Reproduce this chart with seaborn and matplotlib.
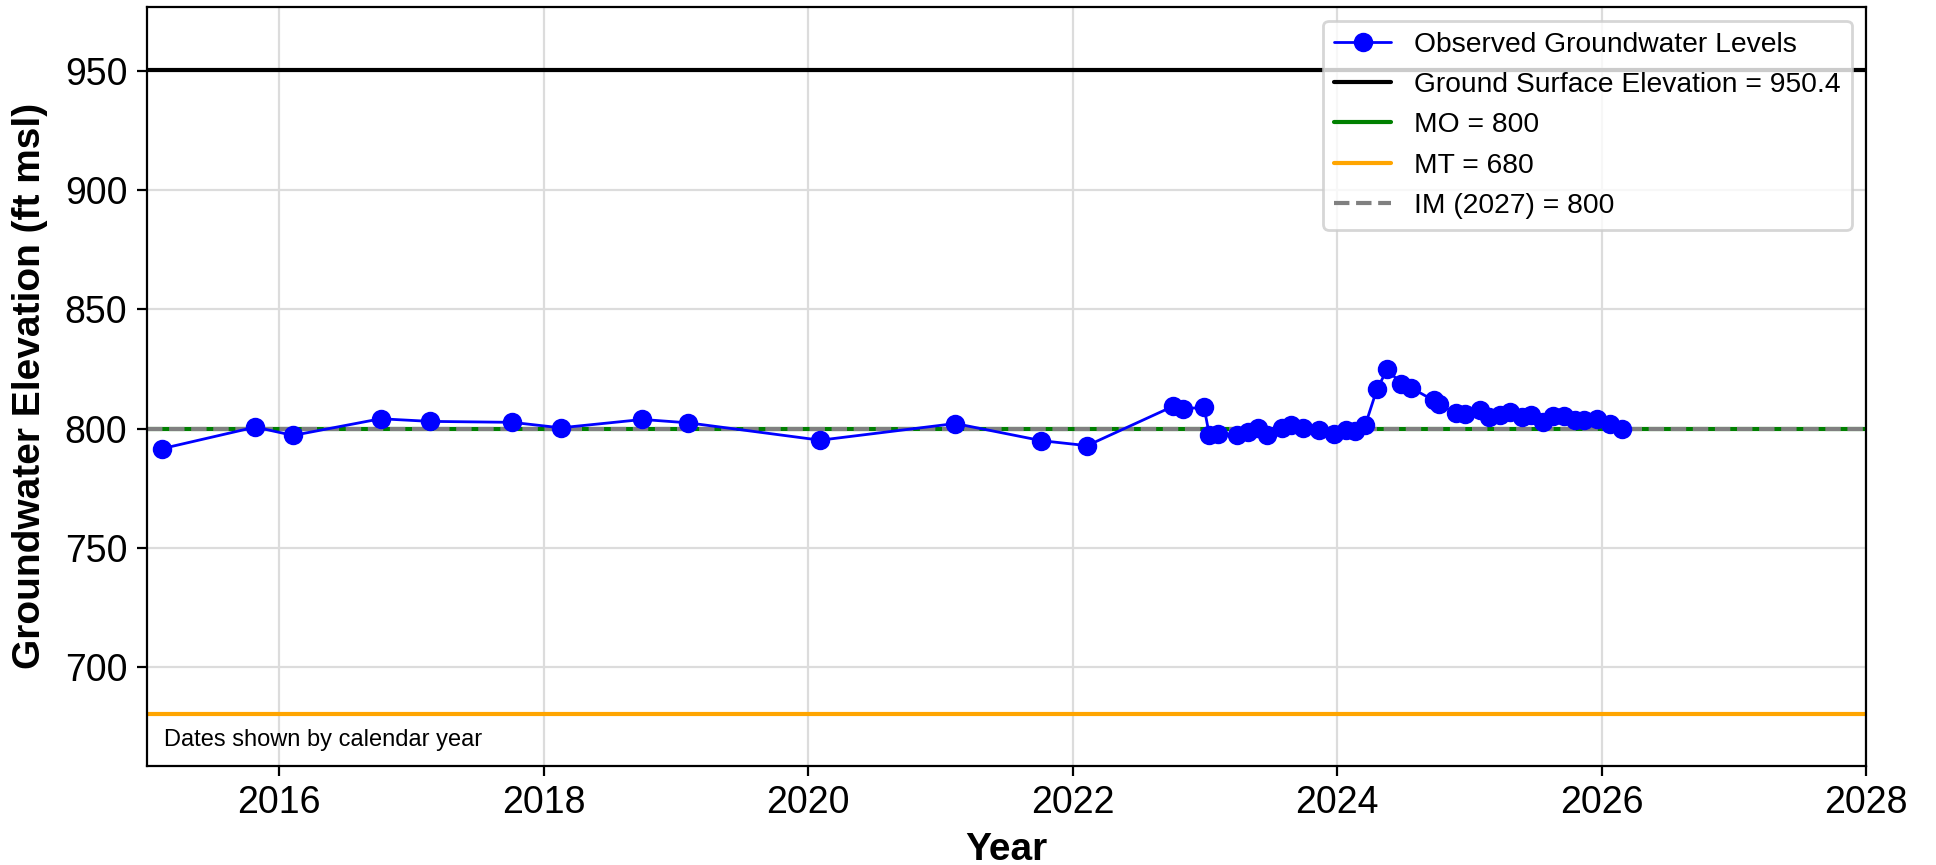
import matplotlib
matplotlib.use("Agg")
import matplotlib.pyplot as plt
import matplotlib.dates as mdates
import pandas as pd
import seaborn as sns

# Observed groundwater level measurements
obs_dates = [
    "2015-02-11", "2015-10-28", "2016-02-09", "2016-10-08", "2017-02-21",
    "2017-10-06", "2018-02-17", "2018-10-01", "2019-02-04", "2020-02-04",
    "2021-02-11", "2021-10-07", "2022-02-10", "2022-10-05", "2022-11-03",
    "2022-12-30", "2023-01-14", "2023-02-06", "2023-03-30", "2023-04-30",
    "2023-05-28", "2023-06-21", "2023-08-03", "2023-08-28", "2023-09-29",
    "2023-11-13", "2023-12-25", "2024-01-26", "2024-02-21", "2024-03-19",
    "2024-04-21", "2024-05-19", "2024-06-27", "2024-07-24", "2024-09-24",
    "2024-10-09", "2024-11-24", "2024-12-19", "2025-01-30", "2025-02-24",
    "2025-03-26", "2025-04-24", "2025-05-27", "2025-06-21", "2025-07-24",
    "2025-08-19", "2025-09-19", "2025-10-20", "2025-11-14", "2025-12-20",
    "2026-01-24", "2026-02-27",
]
obs_levels = [
    791.5, 800.6, 797.1, 804.1, 803.0,
    802.6, 800.3, 803.8, 802.4, 795.1,
    802.1, 794.9, 792.8, 809.3, 808.3,
    808.9, 797.1, 797.8, 797.1, 798.5,
    800.3, 797.1, 800.2, 801.3, 800.2,
    799.2, 797.8, 799.2, 798.9, 801.3,
    816.7, 824.8, 818.8, 817.1, 811.8,
    810.1, 806.5, 806.2, 807.9, 804.8,
    805.5, 806.9, 804.8, 805.5, 802.7,
    805.2, 805.1, 803.4, 803.7, 803.8,
    801.7, 799.6,
]

# Reference elevations (ft msl)
ground_surface = 950.4
mo_level = 800
mt_level = 680
im_level = 800
im_year = 2027

y_ticks = [700, 750, 800, 850, 900, 950]

df = pd.DataFrame({"date": pd.to_datetime(obs_dates), "level": obs_levels})

sns.set_style("ticks")
plt.rcParams["font.family"] = ["Liberation Sans", "DejaVu Sans"]
plt.rcParams["text.color"] = "black"
plt.rcParams["axes.labelcolor"] = "black"
plt.rcParams["xtick.color"] = "black"
plt.rcParams["ytick.color"] = "black"

fig = plt.figure(figsize=(9.68, 4.325), dpi=200)
ax = fig.add_axes([0.0758, 0.1148, 0.888, 0.8776])

sns.lineplot(
    data=df, x="date", y="level", ax=ax, color="blue", marker="o",
    markersize=6.2, markeredgecolor="blue", markeredgewidth=0.8,
    linewidth=1.0, label="Observed Groundwater Levels", zorder=5,
)
ax.axhline(ground_surface, color="black", linewidth=1.5,
           label=f"Ground Surface Elevation = {ground_surface}")
ax.axhline(mo_level, color="green", linewidth=1.5, label=f"MO = {mo_level}")
ax.axhline(mt_level, color="orange", linewidth=1.5, label=f"MT = {mt_level}")
ax.axhline(im_level, color="gray", linewidth=1.5, linestyle="--",
           label=f"IM ({im_year}) = {im_level}")

ax.set_xlim(pd.Timestamp("2015-01-01"), pd.Timestamp("2028-01-01"))
ax.set_ylim(658.4, 977.2)
ax.set_yticks(y_ticks)
ax.xaxis.set_major_locator(mdates.YearLocator(2))
ax.xaxis.set_major_formatter(mdates.DateFormatter("%Y"))

ax.grid(True, color="#dcdcdc", linewidth=0.8)
ax.set_axisbelow(True)
for sp in ax.spines.values():
    sp.set_color("black")
    sp.set_linewidth(0.8)

ax.tick_params(axis="both", labelsize=13.5, direction="out", length=3.5,
               width=0.8, color="black", labelcolor="black")
ax.set_xlabel("Year", fontsize=14, fontweight="bold", labelpad=4,
              color="black")
ax.set_ylabel("Groundwater Elevation (ft msl)", fontsize=14,
              fontweight="bold", labelpad=6, color="black")

ax.text(0.01, 0.02, "Dates shown by calendar year", transform=ax.transAxes,
        fontsize=8.5, ha="left", va="bottom", color="black")

leg = ax.legend(loc="upper right", fontsize=10.2, frameon=True)
for t in leg.get_texts():
    t.set_color("black")

fig.savefig("out.png", dpi=200)
